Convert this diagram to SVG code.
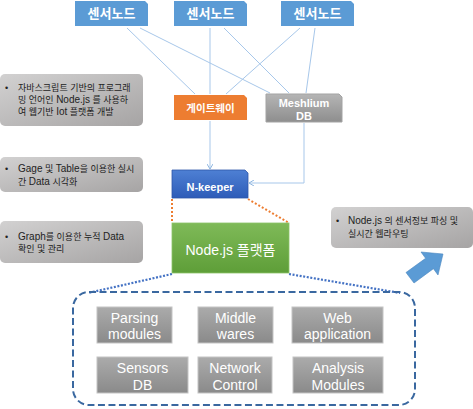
<svg xmlns="http://www.w3.org/2000/svg" width="473" height="409" viewBox="0 0 473 409">
<defs>
<linearGradient id="gCall" x1="0" y1="0" x2="1" y2="1"><stop offset="0" stop-color="#D2D1D1"/><stop offset="1" stop-color="#A6A4A4"/></linearGradient>
<linearGradient id="gGray" x1="0" y1="0" x2="0" y2="1"><stop offset="0" stop-color="#ABABAB"/><stop offset="1" stop-color="#8A8A8A"/></linearGradient>
<linearGradient id="gMesh" x1="0" y1="0" x2="0" y2="1"><stop offset="0" stop-color="#B5B5B5"/><stop offset="1" stop-color="#8E8E8E"/></linearGradient>
<linearGradient id="gBlue" x1="0" y1="0" x2="0" y2="1"><stop offset="0" stop-color="#4E80D4"/><stop offset="1" stop-color="#2E5CB8"/></linearGradient>
<linearGradient id="gGreen" x1="0" y1="0" x2="0" y2="1"><stop offset="0" stop-color="#7FBA58"/><stop offset="1" stop-color="#5E9E38"/></linearGradient>
<marker id="ah" markerWidth="6" markerHeight="6" refX="5" refY="3" orient="auto" markerUnits="userSpaceOnUse"><path d="M0,0 L5,3 L0,6" fill="none" stroke="#8FB6E0" stroke-width="1"/></marker>
</defs>
<style>
.cjk{font-family:"Liberation Sans","Noto Sans CJK KR",sans-serif}
.sn{fill:#5B9BD5}
.snt{fill:#fff;font-weight:bold;font-size:13px;text-anchor:middle}
.call{fill:url(#gCall)}
.ct{fill:#222;font-size:9px}
.la{font-size:10px}
.mod{fill:url(#gGray);stroke:#C4C4C4;stroke-width:1}
.mt{fill:#fff;font-size:14px;text-anchor:middle}
.ln{stroke:#A7C7EA;stroke-width:1;fill:none}
</style>

<g id="connectors">
<line class="ln" x1="127" y1="28" x2="195" y2="94"/>
<line class="ln" x1="140" y1="28" x2="270" y2="93"/>
<line class="ln" x1="210" y1="28" x2="210" y2="94"/>
<line class="ln" x1="224" y1="28" x2="289" y2="93"/>
<line class="ln" x1="300" y1="28" x2="226" y2="94"/>
<line class="ln" x1="315" y1="28" x2="306" y2="93"/>
<line class="ln" x1="210" y1="121" x2="210" y2="169" marker-end="url(#ah)"/>
<polyline class="ln" points="304,123 304,183 249,183" marker-end="url(#ah)"/>
<line x1="172" y1="199" x2="172" y2="223" stroke="#ED7D31" stroke-width="2" stroke-dasharray="2 2"/>
<line x1="248" y1="199" x2="289" y2="223" stroke="#ED7D31" stroke-width="2" stroke-dasharray="2 2"/>
<line x1="172" y1="274" x2="88" y2="293" stroke="#4472C4" stroke-width="2.2" stroke-dasharray="2 1.6"/>
<line x1="289" y1="274" x2="400" y2="293" stroke="#4472C4" stroke-width="2.2" stroke-dasharray="2 1.6"/>
</g>

<g id="sensor1"><path class="sn" d="M75,1 H145 L148,4 V26 H75 Z"/><text class="cjk snt" x="111.5" y="18">센서노드</text></g>
<g id="sensor2"><path class="sn" d="M174,1 H244 L247,4 V26 H174 Z"/><text class="cjk snt" x="210.5" y="18">센서노드</text></g>
<g id="sensor3"><path class="sn" d="M281,1 H351 L354,4 V26 H281 Z"/><text class="cjk snt" x="317.5" y="18">센서노드</text></g>

<g id="gateway"><path d="M174,95 H244 L247,98 V120 H174 Z" fill="#ED7D31"/><text class="cjk" x="210.5" y="111.5" fill="#fff" font-weight="bold" font-size="10.5" text-anchor="middle">게이트웨이</text></g>

<g id="meshlium"><path d="M266,94 H339 L342,97 V122 H266 Z" fill="url(#gMesh)" stroke="#A3A3A3" stroke-width="1"/>
<text class="cjk" x="304" y="107" fill="#fff" font-weight="bold" font-size="11" text-anchor="middle">Meshlium</text>
<text class="cjk" x="304" y="120" fill="#fff" font-weight="bold" font-size="11" text-anchor="middle">DB</text></g>

<g id="nkeeper"><path d="M172,170 H245 L248,173 V198 H172 Z" fill="url(#gBlue)" stroke="#2F57A8" stroke-width="0.8"/><text class="cjk" x="210" y="191" fill="#fff" font-weight="bold" font-size="11" text-anchor="middle">N-keeper</text></g>

<g id="nodejs"><rect x="172" y="223" width="117" height="50" fill="url(#gGreen)" stroke="#8CC46A" stroke-width="0.8"/><text class="cjk" x="230.5" y="255" fill="#fff" font-size="14" text-anchor="middle">Node.js 플랫폼</text></g>

<g id="callout1"><rect class="call" x="0" y="74" width="143" height="52" rx="5"/>
<text class="cjk ct" x="5" y="91">•</text>
<text class="cjk ct" x="18" y="91">자바스크립트 기반의 프로그래</text>
<text class="cjk ct" x="18" y="103">밍 언어인 <tspan class="la">Node.js</tspan> 를 사용하</text>
<text class="cjk ct" x="18" y="115">여 웹기반 <tspan class="la">Iot</tspan> 플랫폼 개발</text></g>

<g id="callout2"><rect class="call" x="0" y="157" width="143" height="35" rx="5"/>
<text class="cjk ct" x="5" y="172">•</text>
<text class="cjk ct" x="18" y="172"><tspan class="la">Gage</tspan> 및 <tspan class="la">Table</tspan>을 이용한 실시</text>
<text class="cjk ct" x="18" y="185">간 <tspan class="la">Data</tspan> 시각화</text></g>

<g id="callout3"><rect class="call" x="0" y="221" width="143" height="42" rx="5"/>
<text class="cjk ct" x="5" y="240">•</text>
<text class="cjk ct" x="18" y="240"><tspan class="la">Graph</tspan>를 이용한 누적 <tspan class="la">Data</tspan></text>
<text class="cjk ct" x="18" y="252">확인 및 관리</text></g>

<g id="callout4"><rect class="call" x="331" y="207" width="142" height="41" rx="5"/>
<text class="cjk ct" x="336" y="224">•</text>
<text class="cjk ct" x="348" y="224"><tspan class="la">Node.js</tspan> 의 센서정보 파싱 및</text>
<text class="cjk ct" x="348" y="237">실시간 웹라우팅</text></g>

<g id="bigarrow"><polygon points="406,272.5 425.6,258.3 421,252 443,254 438,275 433.4,268.7 414,283" fill="#5B9BD5" stroke="#4A86C0" stroke-width="0.6"/></g>

<g id="platform">
<rect x="73" y="292" width="342" height="113" rx="16" fill="none" stroke="#3A68A0" stroke-width="2" stroke-dasharray="7 3.5"/>
</g>

<g id="parsing"><rect class="mod" x="97" y="307" width="75" height="36"/><text class="cjk mt" x="134.5" y="323">Parsing</text><text class="cjk mt" x="134.5" y="339">modules</text></g>
<g id="middle"><rect class="mod" x="198" y="307" width="75" height="36"/><text class="cjk mt" x="235.5" y="323">Middle</text><text class="cjk mt" x="235.5" y="339">wares</text></g>
<g id="web"><rect class="mod" x="292" y="307" width="91" height="36"/><text class="cjk mt" x="337.5" y="323">Web</text><text class="cjk mt" x="337.5" y="339">application</text></g>
<g id="sensorsdb"><rect class="mod" x="97" y="357" width="91" height="36"/><text class="cjk mt" x="142.5" y="373">Sensors</text><text class="cjk mt" x="142.5" y="390">DB</text></g>
<g id="network"><rect class="mod" x="198" y="357" width="74" height="36"/><text class="cjk mt" x="235" y="373">Network</text><text class="cjk mt" x="235" y="390">Control</text></g>
<g id="analysis"><rect class="mod" x="293" y="357" width="90" height="36"/><text class="cjk mt" x="338" y="373">Analysis</text><text class="cjk mt" x="338" y="390">Modules</text></g>
</svg>
